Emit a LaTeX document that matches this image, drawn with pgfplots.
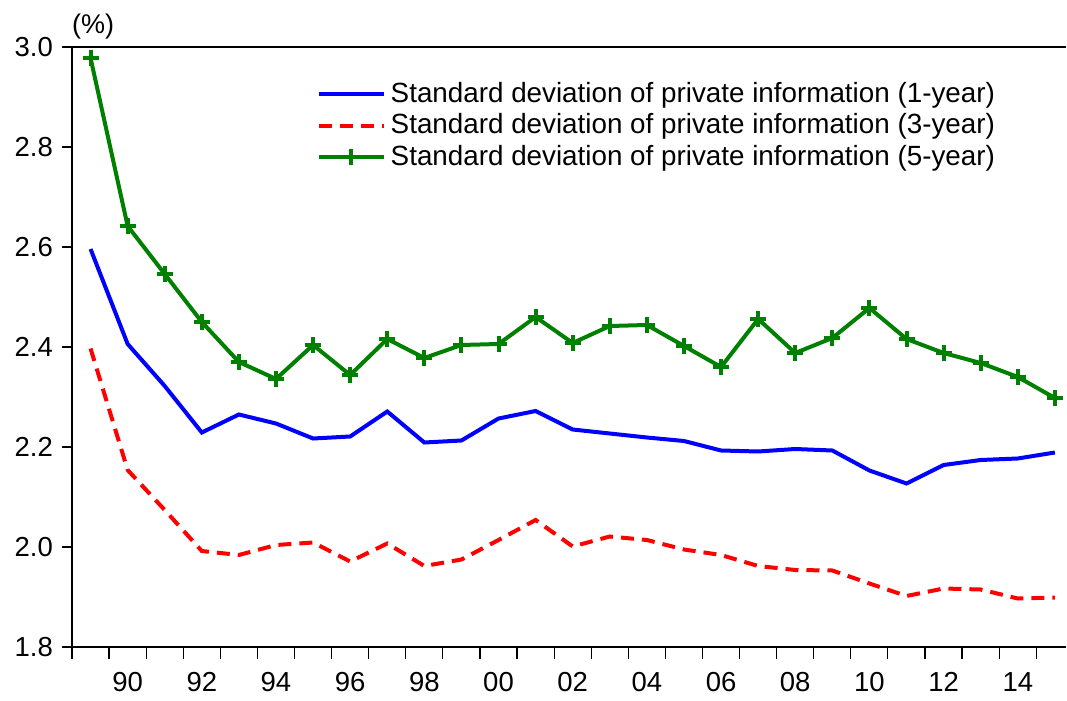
\documentclass[border=0pt]{standalone}
\usepackage{pgfplots}
\pgfplotsset{compat=1.18}
\usepackage{fontspec}
\setmainfont{Liberation Sans}
\definecolor{cblue}{RGB}{0,0,255}
\definecolor{cred}{RGB}{255,0,0}
\definecolor{cgreen}{RGB}{0,128,0}
\begin{document}
\fontsize{27}{32}\selectfont
\begin{tikzpicture}
\begin{axis}[
  name=ax,
  width=994pt, height=600pt, scale only axis,
  xmin=1988.5, xmax=2015.3, ymin=1.8, ymax=3.0,
  axis x line*=bottom, axis y line*=left,
  axis line style={-, line width=1.6pt},
  tick align=outside,
  major tick length=10pt, minor tick length=12pt,
  tick style={line width=1.2pt, black},
  major x tick style={draw=none},
  xtick={1990,1992,...,2014},
  xticklabels={90,92,94,96,98,00,02,04,06,08,10,12,14},
  minor xtick={1988.5,1989.5,...,2014.5},
  ytick={1.8,2.0,...,3.0},
  yticklabel style={/pgf/number format/.cd, fixed, fixed zerofill, precision=1},
  xticklabel style={yshift=-6pt},
  /pgf/number format/assume math mode=true,
  ticklabel style={font=\fontsize{27.5}{32}\selectfont},
  clip=false,
  legend style={draw=none, fill=none, at={(0.243,0.947)}, anchor=north west,
    font=\fontsize{27.8}{32}\selectfont, row sep=5.5pt,
    nodes={inner xsep=5pt, inner ysep=1pt}},
  legend cell align=left,
  legend image code/.code={\draw[mark repeat=2,mark phase=2] plot coordinates {(0pt,0pt) (32.5pt,0pt) (65pt,0pt)};},
]
\addplot[cblue, line width=4pt] coordinates {
(1989,2.596)(1990,2.406)(1991,2.322)(1992,2.229)(1993,2.265)(1994,2.247)(1995,2.217)
(1996,2.221)(1997,2.271)(1998,2.209)(1999,2.213)(2000,2.257)(2001,2.272)(2002,2.235)
(2003,2.227)(2004,2.219)(2005,2.212)(2006,2.193)(2007,2.191)(2008,2.196)(2009,2.193)
(2010,2.153)(2011,2.127)(2012,2.164)(2013,2.174)(2014,2.177)(2015,2.189)};
\addlegendentry{Standard deviation of private information (1-year)}
\addplot[cred, line width=4pt, dash pattern=on 13pt off 8pt] coordinates {
(1989,2.397)(1990,2.154)(1991,2.074)(1992,1.992)(1993,1.984)(1994,2.004)(1995,2.009)
(1996,1.971)(1997,2.007)(1998,1.962)(1999,1.975)(2000,2.014)(2001,2.054)(2002,2.001)
(2003,2.021)(2004,2.014)(2005,1.995)(2006,1.984)(2007,1.962)(2008,1.954)(2009,1.953)
(2010,1.927)(2011,1.902)(2012,1.917)(2013,1.915)(2014,1.897)(2015,1.899)};
\addlegendentry{Standard deviation of private information (3-year)}
\addplot[cgreen, line width=4pt, mark=+, mark size=8pt, mark options={solid, line width=4pt}] coordinates {
(1989,2.978)(1990,2.642)(1991,2.546)(1992,2.450)(1993,2.370)(1994,2.336)(1995,2.404)
(1996,2.344)(1997,2.416)(1998,2.378)(1999,2.404)(2000,2.406)(2001,2.460)(2002,2.408)
(2003,2.442)(2004,2.444)(2005,2.402)(2006,2.360)(2007,2.456)(2008,2.388)(2009,2.418)
(2010,2.478)(2011,2.416)(2012,2.388)(2013,2.368)(2014,2.340)(2015,2.298)};
\addlegendentry{Standard deviation of private information (5-year)}
\draw[line width=1.6pt] (rel axis cs:0,1) -- (rel axis cs:1,1);
\node[anchor=south west, inner sep=0pt, yshift=8pt] at (rel axis cs:0,1) {(\%)};
\end{axis}
\path (ax.south west) ++(-72pt,-50pt) rectangle ++(1067pt,697pt);
\end{tikzpicture}
\end{document}
